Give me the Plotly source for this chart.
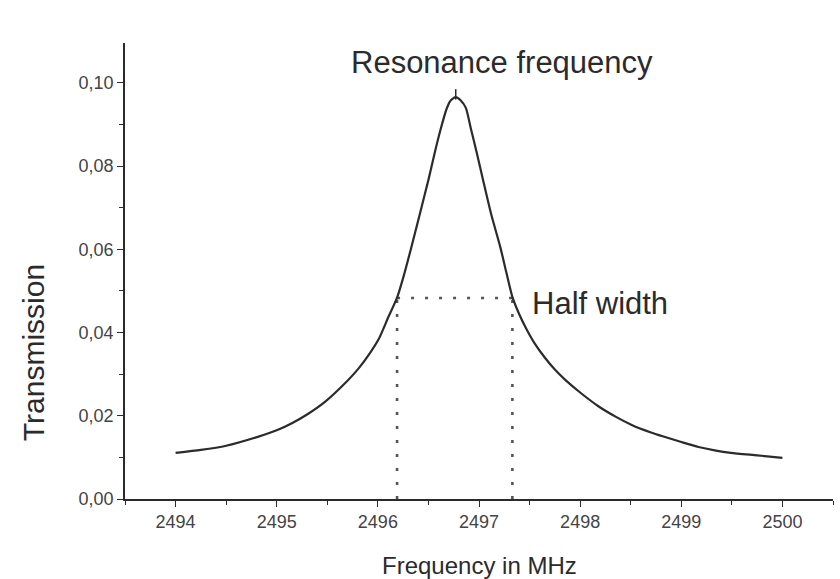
import plotly.graph_objects as go

# Data
freq_mhz = [2494.0, 2494.25, 2494.5, 2494.82, 2495.0, 2495.15, 2495.3, 2495.48, 2495.65,
            2495.81, 2495.92, 2496.01, 2496.10, 2496.19, 2496.26, 2496.33, 2496.42,
            2496.50, 2496.56, 2496.62, 2496.68, 2496.72, 2496.77, 2496.82, 2496.87,
            2496.92, 2496.98, 2497.04, 2497.12, 2497.21, 2497.27, 2497.33, 2497.40,
            2497.47, 2497.55, 2497.65, 2497.75, 2497.85, 2498.0, 2498.18, 2498.35,
            2498.51, 2498.7, 2498.84, 2499.0, 2499.17, 2499.33, 2499.49, 2499.75, 2500.0]
transmission = [0.0111, 0.0118, 0.0128, 0.0150, 0.0165, 0.0182, 0.0203, 0.0234, 0.0272,
                0.0314, 0.0350, 0.0385, 0.0435, 0.0484, 0.0540, 0.0604, 0.0690,
                0.0767, 0.0830, 0.0888, 0.0938, 0.0958, 0.0966, 0.0958, 0.0940,
                0.0890, 0.0830, 0.0767, 0.0685, 0.0606, 0.0545, 0.0486, 0.0443,
                0.0408, 0.0374, 0.0340, 0.0311, 0.0287, 0.0256, 0.0223, 0.0198,
                0.0178, 0.0160, 0.0149, 0.0137, 0.0125, 0.0117, 0.0111, 0.0105, 0.0099]

resonance_freq = 2496.77
peak_marker = [0.0960, 0.0985]
half_width_left = 2496.19
half_width_right = 2497.33
half_max = 0.0483

x_ticks = [2494, 2495, 2496, 2497, 2498, 2499, 2500]
y_ticks = [0.00, 0.02, 0.04, 0.06, 0.08, 0.10]
y_tick_labels = ["0,00", "0,02", "0,04", "0,06", "0,08", "0,10"]

ink = "#2b2b2b"
dot_col = "#555555"
font_family = "Liberation Sans, Arial, sans-serif"
dot_line = dict(color=dot_col, width=2.6, dash="3px,11px")

fig = go.Figure()

# dotted half-width guides
fig.add_trace(go.Scatter(x=[half_width_left, half_width_right], y=[half_max, half_max],
                         mode="lines", line=dot_line, hoverinfo="skip", showlegend=False))
fig.add_trace(go.Scatter(x=[half_width_left, half_width_left], y=[0, half_max],
                         mode="lines", line=dot_line, hoverinfo="skip", showlegend=False))
fig.add_trace(go.Scatter(x=[half_width_right, half_width_right], y=[0, half_max],
                         mode="lines", line=dot_line, hoverinfo="skip", showlegend=False))

# resonance curve
fig.add_trace(go.Scatter(x=freq_mhz, y=transmission, mode="lines",
                         line=dict(color=ink, width=2.2, shape="spline", smoothing=0.6),
                         showlegend=False))

# peak marker
fig.add_trace(go.Scatter(x=[resonance_freq, resonance_freq], y=peak_marker, mode="lines",
                         line=dict(color=ink, width=1.5), hoverinfo="skip", showlegend=False))

axis_common = dict(showline=True, linecolor=ink, linewidth=1.6, showgrid=False,
                   zeroline=False, ticks="outside", ticklen=6, tickwidth=1.4,
                   tickcolor=ink, tickfont=dict(family=font_family, size=18, color="#444444"))

fig.update_xaxes(range=[2493.5, 2500.5], tickvals=x_ticks,
                 minor=dict(dtick=0.5, tick0=2493.5, ticks="outside", ticklen=4,
                            tickwidth=1.2, tickcolor=ink),
                 **axis_common)
fig.update_yaxes(range=[0, 0.1096], tickvals=y_ticks, ticktext=y_tick_labels,
                 minor=dict(dtick=0.01, tick0=0, ticks="outside", ticklen=4,
                            tickwidth=1.2, tickcolor=ink),
                 **axis_common)

fig.add_annotation(text="Resonance frequency", x=2497.23, y=0.1050, xref="x", yref="y",
                   showarrow=False, font=dict(family=font_family, size=31, color=ink))
fig.add_annotation(text="Half width", x=2497.50, y=0.0471, xref="x", yref="y",
                   xanchor="left", showarrow=False,
                   font=dict(family=font_family, size=31, color=ink))
fig.add_annotation(text="Frequency in MHz", x=0.501, y=-0.145, xref="paper", yref="paper",
                   xanchor="center", yanchor="middle", showarrow=False,
                   font=dict(family=font_family, size=24, color=ink))
fig.add_annotation(text="Transmission", x=-0.130, y=0.322, xref="paper", yref="paper",
                   xanchor="center", yanchor="middle", textangle=-90, showarrow=False,
                   font=dict(family=font_family, size=30, color=ink))

fig.update_layout(width=840, height=579, margin=dict(l=125, r=7, t=43, b=80),
                  paper_bgcolor="white", plot_bgcolor="white")

fig.write_html("out.html")
